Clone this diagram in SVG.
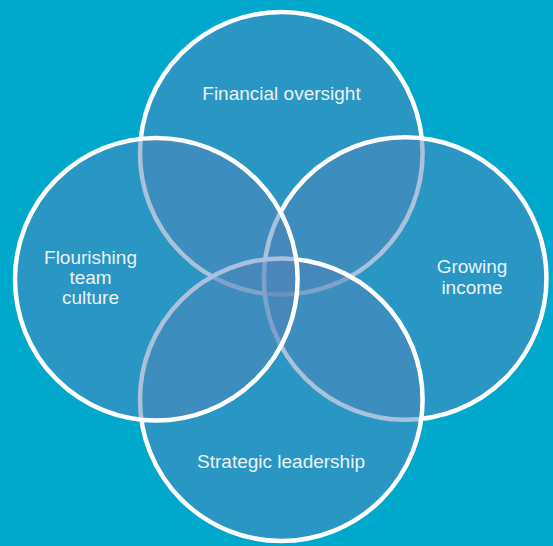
<svg xmlns="http://www.w3.org/2000/svg" width="553" height="546" viewBox="0 0 553 546">
<style>
.c{fill:#5283ba;fill-opacity:0.5;stroke:#ffffff;stroke-width:4.5}
.t{font-family:"Liberation Sans",Arial,sans-serif;font-size:19px;fill:#eaf2f8;text-anchor:middle}
</style>
<rect width="553" height="546" fill="#00a8cc"/>
<g id="financial-oversight">
<circle class="c" cx="281.3" cy="153.3" r="141.3"/>
<text class="t" x="281.5" y="100">Financial oversight</text>
</g>
<g id="growing-income">
<circle class="c" cx="405.2" cy="278.5" r="141.3"/>
<text class="t" x="472" y="273">Growing</text>
<text class="t" x="472" y="294">income</text>
</g>
<g id="strategic-leadership">
<circle class="c" cx="281.3" cy="399.7" r="141.3"/>
<text class="t" x="281" y="468">Strategic leadership</text>
</g>
<g id="flourishing-team-culture">
<circle class="c" cx="156.3" cy="279.3" r="141.3"/>
<text class="t" x="90.5" y="264">Flourishing</text>
<text class="t" x="90.5" y="284">team</text>
<text class="t" x="90.5" y="304">culture</text>
</g>
<g id="connectors"></g>
</svg>
